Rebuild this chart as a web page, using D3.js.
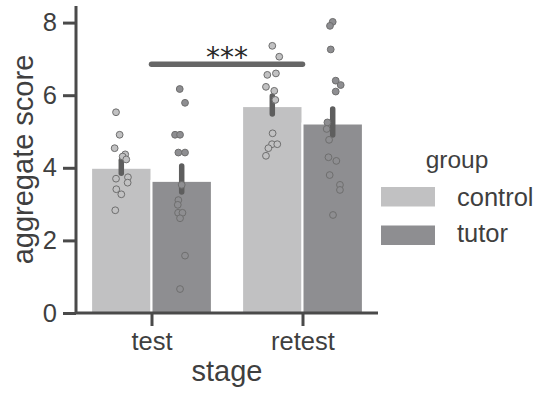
<!DOCTYPE html>
<html><head><meta charset="utf-8">
<script src="https://cdn.jsdelivr.net/npm/d3@7"></script>
<style>
html,body{margin:0;padding:0;background:#fff;}
svg{display:block;font-family:"Liberation Sans",Arial,sans-serif;}
</style></head>
<body><svg id="chart" width="541" height="393"></svg>
<script>
// ---- data ----
const stages = ["test", "retest"];
const groups = ["control", "tutor"];
const groupColors = ["#c1c1c2", "#8e8e91"];
const yTicks = [0, 2, 4, 6, 8];

// bar means [stage]
const meanControl = [4.00, 5.70];
const meanTutor = [3.64, 5.22];
// confidence interval ends
const ciLowControl = [3.85, 5.48];
const ciHighControl = [4.21, 5.98];
const ciLowTutor = [3.33, 4.90];
const ciHighTutor = [4.05, 5.62];

// individual scores
const testControl = [5.53, 4.91, 4.54, 4.37, 4.31, 4.23, 3.70, 3.74, 3.59, 3.41, 3.27, 2.83];
const testTutor = [6.17, 5.79, 4.91, 4.91, 4.42, 4.42, 3.53, 3.11, 2.98, 2.76, 2.76, 2.61, 1.58, 0.66];
const retestControl = [7.36, 7.06, 6.56, 6.60, 6.23, 6.12, 5.87, 4.95, 4.65, 4.65, 4.54, 4.33];
const retestTutor = [8.02, 7.91, 7.26, 6.40, 6.28, 6.10, 5.25, 5.07, 4.77, 4.29, 4.19, 3.80, 3.53, 3.39, 2.70];
// strip-plot jitter (category units)
const jitTestControl = [-0.035, -0.011, -0.044, 0.026, 0.009, 0.033, -0.035, 0.044, 0.042, -0.033, 0.000, -0.040];
const jitTestTutor = [-0.013, 0.022, -0.044, -0.011, -0.022, 0.022, 0.000, -0.022, -0.026, -0.024, 0.005, -0.011, 0.022, -0.011];
const jitRetestControl = [0.000, 0.046, -0.033, 0.024, -0.042, 0.013, 0.020, 0.002, -0.002, 0.033, -0.026, -0.042];
const jitRetestTutor = [0.000, -0.018, -0.013, 0.020, 0.053, 0.020, -0.035, -0.040, -0.024, -0.028, 0.024, -0.020, 0.048, 0.048, 0.002];

// significance annotation
const sigLabel = "***";
const sigValue = 6.85;

// ---- layout ----
const svg = d3.select("#chart");
const mLeft = 76, mRight = 378, mTop = 6, mBottom = 313;
const x = d3.scaleLinear().domain([-0.5, 1.5]).range([mLeft, mRight]);
const y = d3.scaleLinear().domain([0, 8.457]).range([mBottom, mTop]);
const barW = 0.4;
const offsets = [-0.2, 0.2];
const textCol = "#3f3f3f", axisCol = "#4a4a4a";

const bars = [];
const means = [meanControl, meanTutor];
const lo = [ciLowControl, ciLowTutor], hi = [ciHighControl, ciHighTutor];
const pts = [[testControl, testTutor], [retestControl, retestTutor]];
const jit = [[jitTestControl, jitTestTutor], [jitRetestControl, jitRetestTutor]];
stages.forEach((s, si) => groups.forEach((g, gi) => {
  bars.push({si, gi, v: means[gi][si], lo: lo[gi][si], hi: hi[gi][si], c: si + offsets[gi]});
}));

svg.append("g").selectAll("rect").data(bars).join("rect")
  .attr("x", d => x(d.c - barW / 2)).attr("width", x(barW) - x(0))
  .attr("y", d => y(d.v)).attr("height", d => y(0) - y(d.v))
  .attr("fill", d => groupColors[d.gi]).attr("stroke", "#fff").attr("stroke-width", 2);

svg.append("g").selectAll("line").data(bars).join("line")
  .attr("x1", d => x(d.c)).attr("x2", d => x(d.c))
  .attr("y1", d => y(d.lo)).attr("y2", d => y(d.hi))
  .attr("stroke", "#5e5e5e").attr("stroke-width", 5.5).attr("stroke-linecap", "round");

const dots = [];
stages.forEach((s, si) => groups.forEach((g, gi) => {
  pts[si][gi].forEach((v, k) => dots.push({gi, v, c: si + offsets[gi] + jit[si][gi][k]}));
}));
svg.append("g").selectAll("circle").data(dots).join("circle")
  .attr("cx", d => x(d.c)).attr("cy", d => y(d.v)).attr("r", 3.4)
  .attr("fill", d => groupColors[d.gi]).attr("stroke", "#6e6e6e").attr("stroke-width", 1);

// axes
const yAxis = d3.axisLeft(y).tickValues(yTicks).tickSize(13).tickPadding(6).tickFormat(d3.format("d"));
const gy = svg.append("g").attr("transform", `translate(${mLeft},0)`).call(yAxis);
const xAxis = d3.axisBottom(x).tickValues([0, 1]).tickSize(13).tickPadding(6).tickFormat(i => stages[i]);
const gx = svg.append("g").attr("transform", `translate(0,${mBottom})`).call(xAxis);
[gx, gy].forEach(g => {
  g.select(".domain").attr("stroke", axisCol).attr("stroke-width", 3);
  g.selectAll(".tick line").attr("stroke", axisCol).attr("stroke-width", 3);
  g.selectAll(".tick text").attr("fill", textCol).attr("font-size", 25.5).attr("font-family", "Liberation Sans, Arial, sans-serif");
});
gy.select(".domain").attr("d", `M0,${mTop}V${mBottom}`);
gx.select(".domain").attr("d", `M${mLeft},0H${mRight}`);

svg.append("text").attr("x", x(0.5)).attr("y", 381).attr("text-anchor", "middle")
  .attr("font-size", 29).attr("fill", textCol).text("stage");
svg.append("text").attr("transform", `translate(33,${(mTop + mBottom) / 2}) rotate(-90)`)
  .attr("text-anchor", "middle").attr("font-size", 29).attr("fill", textCol).text("aggregate score");

// significance
svg.append("line").attr("x1", x(0)).attr("x2", x(1)).attr("y1", y(sigValue)).attr("y2", y(sigValue))
  .attr("stroke", "#666").attr("stroke-width", 5.5).attr("stroke-linecap", "round");
svg.append("text").attr("x", x(0.5)).attr("y", y(sigValue) + 3).attr("text-anchor", "middle")
  .attr("font-family", "DejaVu Sans, sans-serif").attr("font-size", 28).attr("fill", "#2a2a2a").text(sigLabel);

// legend
const lg = svg.append("g");
lg.append("text").attr("x", 457).attr("y", 168).attr("text-anchor", "middle")
  .attr("font-size", 24.5).attr("fill", textCol).text("group");
groups.forEach((g, i) => {
  lg.append("rect").attr("x", 381).attr("y", 187 + i * 38.5).attr("width", 54).attr("height", 19.5)
    .attr("fill", groupColors[i]);
  lg.append("text").attr("x", 457).attr("y", 205.5 + i * 36.5).attr("font-size", 25.5)
    .attr("fill", textCol).text(g);
});
</script></body></html>
